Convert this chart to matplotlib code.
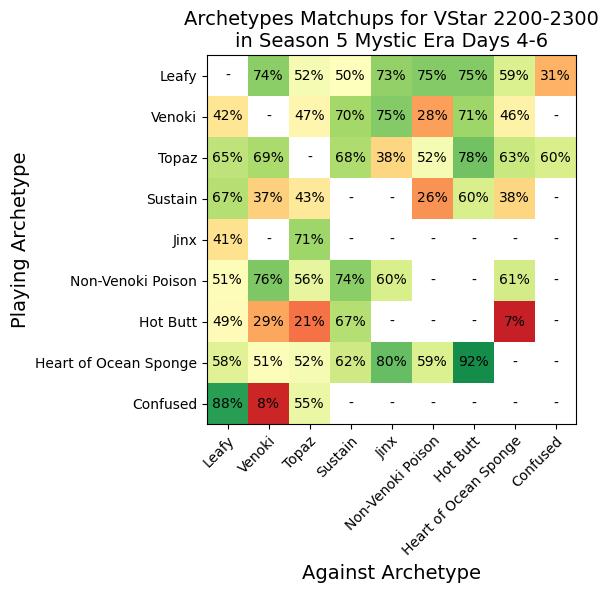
import matplotlib
matplotlib.use('Agg')
import matplotlib.pyplot as plt
import numpy as np

archetypes = ['Leafy', 'Venoki', 'Topaz', 'Sustain', 'Jinx', 'Non-Venoki Poison',
              'Hot Butt', 'Heart of Ocean Sponge', 'Confused']

nan = np.nan
# win rate (%) of row archetype against column archetype
leafy = [nan, 74, 52, 50, 73, 75, 75, 59, 31]
venoki = [42, nan, 47, 70, 75, 28, 71, 46, nan]
topaz = [65, 69, nan, 68, 38, 52, 78, 63, 60]
sustain = [67, 37, 43, nan, nan, 26, 60, 38, nan]
jinx = [41, nan, 71, nan, nan, nan, nan, nan, nan]
poison = [51, 76, 56, 74, 60, nan, nan, 61, nan]
hot_butt = [49, 29, 21, 67, nan, nan, nan, 7, nan]
sponge = [58, 51, 52, 62, 80, 59, 92, nan, nan]
confused = [88, 8, 55, nan, nan, nan, nan, nan, nan]

matrix = np.array([leafy, venoki, topaz, sustain, jinx, poison,
                   hot_butt, sponge, confused]) / 100.0

fig = plt.figure(figsize=(6.08, 5.93), dpi=100)
ax = fig.add_axes([206.5 / 608, 1 - 424 / 593, 370 / 608, 369 / 593])

ax.imshow(matrix, cmap='RdYlGn', vmin=0, vmax=1)

for i in range(len(archetypes)):
    for j in range(len(archetypes)):
        v = matrix[i, j]
        txt = '-' if np.isnan(v) else '%d%%' % round(v * 100)
        ax.text(j, i, txt, ha='center', va='center', color='black', fontsize=10)

ax.set_xticks(range(len(archetypes)))
ax.set_yticks(range(len(archetypes)))
ax.set_xticklabels(archetypes, rotation=45, ha='right', rotation_mode='anchor')
ax.set_yticklabels(archetypes)

ax.set_xlabel('Against Archetype', fontsize=14)
ax.set_ylabel('Playing Archetype', fontsize=14)
ax.set_title('Archetypes Matchups for VStar 2200-2300\nin Season 5 Mystic Era Days 4-6',
             fontsize=14)

plt.savefig('out.png', dpi=100)
